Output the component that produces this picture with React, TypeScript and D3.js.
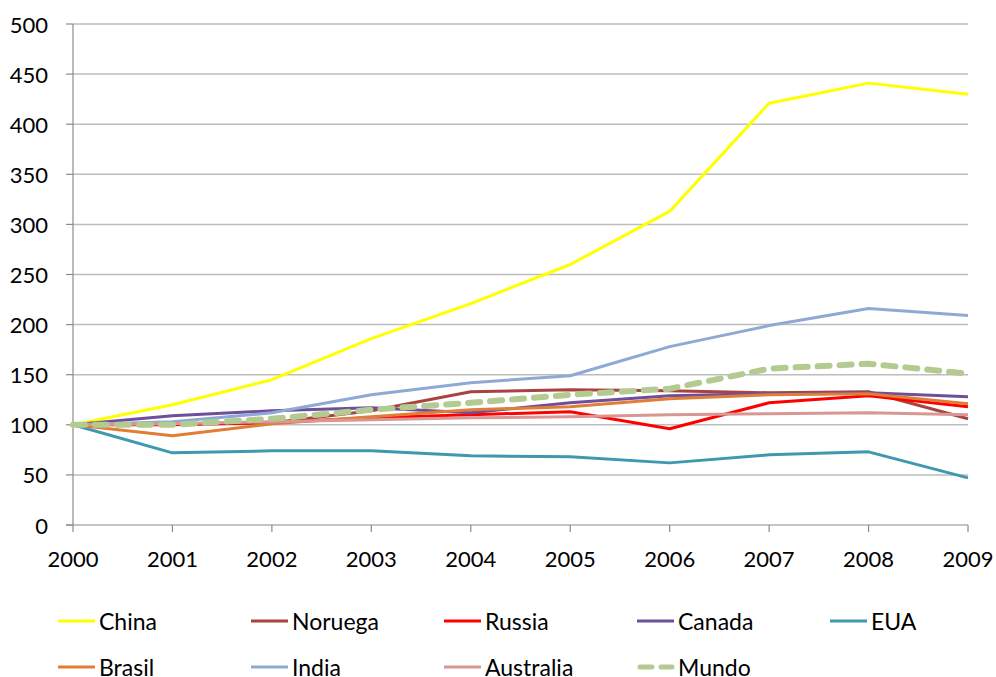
import React from "react";
import * as d3 from "d3";

const years = [2000, 2001, 2002, 2003, 2004, 2005, 2006, 2007, 2008, 2009];
const yTicks = [0, 50, 100, 150, 200, 250, 300, 350, 400, 450, 500];

const china = [100, 120, 145, 186, 221, 260, 313, 421, 441, 430];
const noruega = [100, 101, 102, 114, 133, 135, 134, 132, 133, 106];
const russia = [100, 100, 102, 107, 110, 113, 96, 122, 129, 118];
const canada = [100, 109, 114, 117, 112, 122, 129, 131, 132, 128];
const eua = [100, 72, 74, 74, 69, 68, 62, 70, 73, 47];
const brasil = [100, 89, 101, 108, 115, 118, 126, 130, 131, 121];
const india = [100, 103, 112, 130, 142, 149, 178, 199, 216, 209];
const australia = [100, 101, 103, 105, 107, 108, 110, 111, 112, 110];
const mundo = [100, 100, 106, 115, 122, 130, 136, 156, 161, 151];

type Series = { name: string; values: number[]; color: string; dashed?: boolean };

const series: Series[] = [
  { name: "China", values: china, color: "#FFFF00" },
  { name: "Noruega", values: noruega, color: "#A9433F" },
  { name: "Russia", values: russia, color: "#FF0000" },
  { name: "Canada", values: canada, color: "#6F4F9B" },
  { name: "EUA", values: eua, color: "#3E98AF" },
  { name: "Brasil", values: brasil, color: "#E07E36" },
  { name: "India", values: india, color: "#8EA9D6" },
  { name: "Australia", values: australia, color: "#D99694" },
  { name: "Mundo", values: mundo, color: "#B3CB91", dashed: true },
];

const W = 996;
const H = 677;
const left = 73;
const right = 968;
const top = 24;
const bottom = 525;
const font = "Lato, 'Open Sans', sans-serif";

export default function App() {
  const x = d3.scaleLinear().domain([2000, 2009]).range([left, right]);
  const y = d3.scaleLinear().domain([0, 500]).range([bottom, top]);
  const line = d3
    .line<number>()
    .x((_, i) => x(years[i]))
    .y((d) => y(d));

  const legendCols = [58, 251, 444, 637, 830];
  const legendRows = [621, 667];

  return (
    <svg
      width={W}
      height={H}
      style={{ position: "absolute", left: 0, top: 0, background: "#fff" }}
      fontFamily={font}
    >
      {/* horizontal gridlines and y labels */}
      {yTicks.map((t) => (
        <g key={t}>
          {t > 0 && (
            <line x1={left} x2={right} y1={y(t)} y2={y(t)} stroke="#BDBDBD" strokeWidth={1.5} />
          )}
          <line x1={left - 7} x2={left} y1={y(t)} y2={y(t)} stroke="#8A8A8A" strokeWidth={1.2} />
          <text x={48} y={y(t)} textAnchor="end" dominantBaseline="central" fontSize={22} fill="#000">
            {t}
          </text>
        </g>
      ))}
      {/* axes */}
      <line x1={left} x2={left} y1={top} y2={bottom} stroke="#8A8A8A" strokeWidth={1.2} />
      <line x1={left - 7} x2={right} y1={bottom} y2={bottom} stroke="#8A8A8A" strokeWidth={1.2} />
      {years.map((yr) => (
        <g key={yr}>
          <line x1={x(yr)} x2={x(yr)} y1={bottom} y2={bottom + 7} stroke="#8A8A8A" strokeWidth={1.2} />
          <text x={x(yr)} y={558} textAnchor="middle" dominantBaseline="central" fontSize={22} fill="#000">
            {yr}
          </text>
        </g>
      ))}
      {/* series lines */}
      {series.map((s) => (
        <path
          key={s.name}
          d={line(s.values) || ""}
          fill="none"
          stroke={s.color}
          strokeWidth={s.dashed ? 6 : 3}
          strokeDasharray={s.dashed ? "12 10" : undefined}
          strokeLinecap={s.dashed ? "round" : "butt"}
          strokeLinejoin="round"
        />
      ))}
      {/* legend */}
      {series.map((s, i) => {
        const lx = legendCols[i % 5];
        const ly = legendRows[Math.floor(i / 5)];
        return (
          <g key={s.name}>
            {s.dashed ? (
              <line
                x1={lx + 3}
                x2={lx + 35}
                y1={ly}
                y2={ly}
                stroke={s.color}
                strokeWidth={5}
                strokeDasharray="12 9"
                strokeLinecap="round"
              />
            ) : (
              <line x1={lx} x2={lx + 37} y1={ly} y2={ly} stroke={s.color} strokeWidth={3} />
            )}
            <text x={lx + 41} y={ly} dominantBaseline="central" fontSize={23} fill="#000">
              {s.name}
            </text>
          </g>
        );
      })}
    </svg>
  );
}
